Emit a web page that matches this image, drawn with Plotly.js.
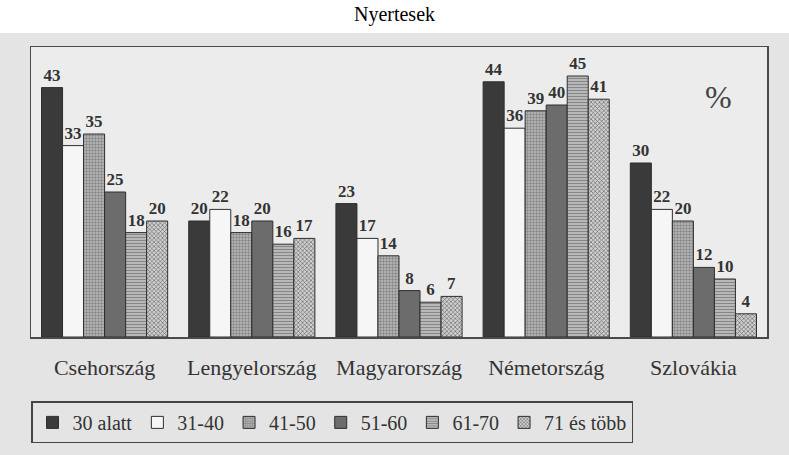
<!DOCTYPE html>
<html>
<head>
<meta charset="utf-8">
<script src="https://cdn.plot.ly/plotly-3.0.1.min.js"></script>
<style>html,body{margin:0;padding:0;background:#fff;}#chart{width:789px;height:455px;}</style>
</head>
<body>
<div id="chart"></div>
<script>
const countries = ["Csehország", "Lengyelország", "Magyarország", "Németország", "Szlovákia"];
const seriesNames = ["30 alatt", "31-40", "41-50", "51-60", "61-70", "71 és több"];
const v30alatt = [43, 20, 23, 44, 30];
const v31_40 = [33, 22, 17, 36, 22];
const v41_50 = [35, 18, 14, 39, 20];
const v51_60 = [25, 20, 8, 40, 12];
const v61_70 = [18, 16, 6, 45, 10];
const v71tobb = [20, 17, 7, 41, 4];
const seriesValues = [v30alatt, v31_40, v41_50, v51_60, v61_70, v71tobb];

const styles = [
  {color: "#3a3a3a", pattern: {shape: ""}},
  {color: "#f6f6f6", pattern: {shape: ""}},
  {color: "#9c9c9c", pattern: {shape: "+", size: 3, solidity: 0.25, fgcolor: "#6e6e6e", bgcolor: "#b0b0b0"}},
  {color: "#6c6c6c", pattern: {shape: ""}},
  {color: "#a6a6a6", pattern: {shape: "-", size: 3, solidity: 0.3, fgcolor: "#808080", bgcolor: "#b8b8b8"}},
  {color: "#b5b5b5", pattern: {shape: "x", size: 3, solidity: 0.35, fgcolor: "#5a5a5a", bgcolor: "#d0d0d0"}}
];

const serif = "Liberation Serif, Times New Roman, serif";

const traces = seriesNames.map((name, i) => ({
  type: "bar",
  name: name,
  x: countries,
  y: seriesValues[i],
  text: seriesValues[i].map(String),
  textposition: "outside",
  constraintext: "none",
  cliponaxis: false,
  textfont: {family: serif, size: 17, color: "#333333", weight: "bold"},
  marker: {
    color: styles[i].color,
    pattern: styles[i].pattern,
    line: {color: "#2e2e2e", width: 1}
  },
  hoverinfo: "x+y+name"
}));

const layout = {
  width: 789,
  height: 455,
  margin: {l: 31, r: 22, t: 47, b: 116, pad: 0},
  paper_bgcolor: "#ffffff",
  plot_bgcolor: "rgba(0,0,0,0)",
  barmode: "group",
  bargap: 0.143,
  bargroupgap: 0,
  font: {family: serif, color: "#333333"},
  title: {
    text: "Nyertesek",
    font: {family: serif, size: 20, color: "#000000"},
    xref: "container", x: 0.5, xanchor: "center",
    yref: "container", y: 0.969, yanchor: "middle"
  },
  xaxis: {
    type: "category",
    range: [-0.5, 4.5],
    showline: true, mirror: true, linecolor: "#4a4a4a", linewidth: 1.5,
    ticks: "", showgrid: false, zeroline: false,
    tickfont: {family: serif, size: 22, color: "#333333"},
    ticklabelstandoff: 10
  },
  yaxis: {
    range: [0, 50],
    showline: true, mirror: true, linecolor: "#4a4a4a", linewidth: 1.5,
    showticklabels: false, ticks: "", showgrid: false, zeroline: false
  },
  showlegend: true,
  legend: {
    orientation: "h",
    x: 0.0, xanchor: "left",
    y: -0.222, yanchor: "top",
    bordercolor: "#444444", borderwidth: 1.5,
    bgcolor: "rgba(0,0,0,0)",
    font: {family: serif, size: 20, color: "#333333"},
    itemwidth: 30,
    traceorder: "normal"
  },
  shapes: [
    {type: "rect", xref: "paper", yref: "paper", x0: -0.05, x1: 1.05, y0: -0.45, y1: 1.048,
     fillcolor: "#e4e4e4", line: {width: 0}, layer: "below"},
    {type: "rect", xref: "paper", yref: "paper", x0: 0, x1: 1, y0: 0, y1: 1,
     fillcolor: "#ececec", line: {width: 0}, layer: "below"}
  ],
  annotations: [
    {text: "%", xref: "paper", yref: "paper", x: 0.955, y: 0.895, showarrow: false,
     font: {family: serif, size: 32, color: "#444444"}}
  ]
};

Plotly.newPlot("chart", traces, layout, {displayModeBar: false, staticPlot: true});
</script>
</body>
</html>
